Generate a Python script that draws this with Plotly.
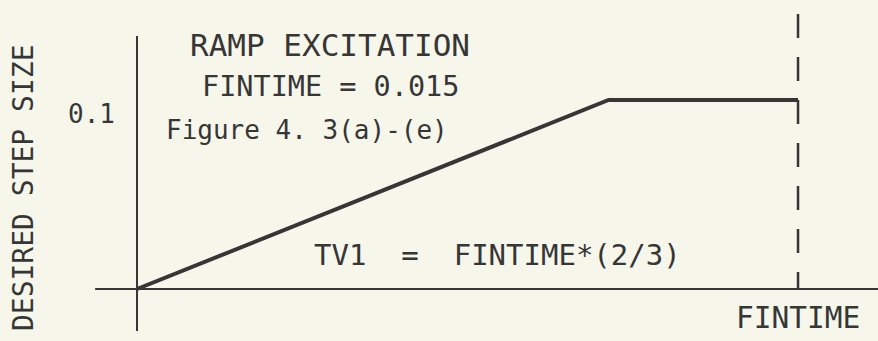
import plotly.graph_objects as go

# Ramp excitation: desired step size vs. time (FINTIME = 0.015)
FINTIME = 0.015
STEP = 0.1
time_pts = [0.0, 0.0107, FINTIME]
step_pts = [0.0, STEP, STEP]

INK = "#363636"
BG = "#f7f6eb"
FONT = "DejaVu Sans Mono"

# axis windows chosen so the origin sits left-bottom with room for labels
x_range = [-0.003109, 0.016815]
y_range = [-0.02751, 0.15291]

fig = go.Figure()

fig.add_trace(go.Scatter(
    x=time_pts, y=step_pts, mode="lines",
    line=dict(color=INK, width=4), showlegend=False, hoverinfo="skip",
))

# hand-drawn style axes crossing at the origin
fig.add_shape(type="line", xref="x", yref="y", x0=0, x1=0, y0=0.1339, y1=-0.0222,
              line=dict(color=INK, width=2))
fig.add_shape(type="line", xref="x", yref="y", x0=-0.00095, x1=x_range[1], y0=0, y1=0,
              line=dict(color=INK, width=2))
# dashed marker at FINTIME
fig.add_shape(type="line", xref="x", yref="y", x0=FINTIME, x1=FINTIME, y0=0.1455, y1=0,
              line=dict(color=INK, width=2.5, dash="24px,19px"))

notes = [
    ("RAMP EXCITATION", 0.00438, 0.1291, 31),
    ("FINTIME = 0.015", 0.00438, 0.1069, 28.5),
    ("Figure 4. 3(a)-(e)", 0.00386, 0.0841, 26),
    ("TV1  =  FINTIME*(2/3)", 0.00817, 0.0180, 29),
    ("FINTIME", FINTIME, -0.0153, 29.5),
]
for text, x, y, size in notes:
    fig.add_annotation(text=text, x=x, y=y, xref="x", yref="y", showarrow=False,
                       xanchor="center", yanchor="middle",
                       font=dict(family=FONT, size=size, color=INK))

# y tick value
fig.add_annotation(text="0.1", x=0, y=STEP, xref="x", yref="y", showarrow=False,
                   xanchor="right", yanchor="middle", xshift=-20, yshift=-14,
                   font=dict(family=FONT, size=26, color=INK))

# rotated axis title
fig.add_annotation(text="DESIRED STEP SIZE", x=-0.00256, y=0.0535, xref="x", yref="y",
                   showarrow=False, textangle=-90, xanchor="center", yanchor="middle",
                   font=dict(family=FONT, size=28, color=INK))

fig.update_xaxes(range=x_range, visible=False, fixedrange=True)
fig.update_yaxes(range=y_range, visible=False, fixedrange=True)
fig.update_layout(
    width=878, height=341, margin=dict(l=0, r=0, t=0, b=0),
    paper_bgcolor=BG, plot_bgcolor=BG,
)

fig.write_html("out.html")
